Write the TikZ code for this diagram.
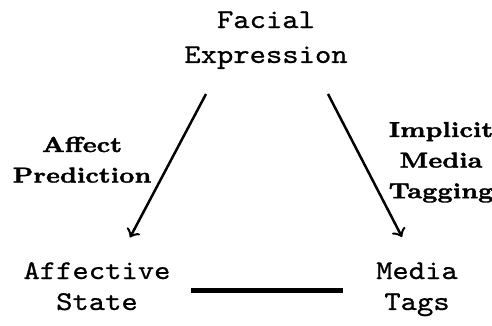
\documentclass[tikz,border=0pt]{standalone}
\usepackage{graphicx}
\usepackage{fontspec}
\newfontfamily\enttt{lmmono10-regular.otf}[FakeBold=0.7]
\newfontfamily\labbf{lmroman8-bold.otf}[FakeBold=1.5]
\newcommand\vsq[1]{\scalebox{1}[0.87]{#1}}
\begin{document}
\begin{tikzpicture}[x=0.3215pt,y=-0.3215pt,
  ent/.style={anchor=base, inner sep=0pt, font=\enttt\fontsize{10}{12}\selectfont},
  lab/.style={anchor=base, inner sep=0pt, font=\labbf\fontsize{8}{9.5}\selectfont},
  arr/.style={->, line width=0.8pt},
  link/.style={line width=1.35pt}]
\useasboundingbox (0,0) rectangle (492,325);
\node[ent] (face) at (266,28) {\vsq{\begin{tabular}[t]{@{}c@{}}Facial\\[0.9pt]Expression\end{tabular}}};
\node[ent] (aff) at (97,279) {\vsq{\begin{tabular}[t]{@{}c@{}}Affective\\[-0.55pt]State\end{tabular}}};
\node[ent] (tags) at (417,279) {\vsq{\begin{tabular}[t]{@{}c@{}}Media\\[-0.55pt]Tags\end{tabular}}};
\node[lab] (lp) at (82,152) {\vsq{\begin{tabular}[t]{@{}c@{}}Affect\\[1.8pt]Prediction\end{tabular}}};
\node[lab] (lt) at (441,137) {\vsq{\begin{tabular}[t]{@{}c@{}}Implicit\\[1.8pt]Media\\[1.8pt]Tagging\end{tabular}}};
\coordinate (fl) at (206,94);
\coordinate (al) at (130,237.5);
\coordinate (fr) at (328,94);
\coordinate (tr) at (402,237);
\coordinate (ae) at (191,290.5);
\coordinate (tw) at (343,290.5);
\draw[arr] (fl) -- (al);
\draw[arr] (fr) -- (tr);
\draw[link] (ae) -- (tw);
\end{tikzpicture}
\end{document}
